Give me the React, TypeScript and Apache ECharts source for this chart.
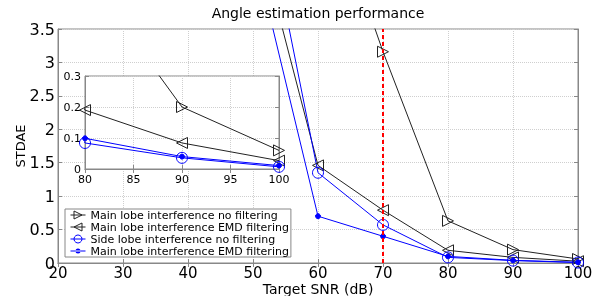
import React, { useEffect, useRef } from "react";
import * as echarts from "echarts";

const snr = [50, 60, 70, 80, 90, 100];
const mainNoFilt = [null, 5.95, 3.16, 0.63, 0.2, 0.06];
const mainEmdBlack = [5.2, 1.46, 0.79, 0.19, 0.084, 0.027];
const sideNoFilt = [6.2, 1.35, 0.57, 0.084, 0.036, 0.007];
const mainEmdBlue = [4.74, 0.7, 0.4, 0.099, 0.04, 0.011];
const markerSnr = 70;
const names = [
  "Main lobe interference no filtering",
  "Main lobe interference EMD filtering",
  "Side lobe interference no filtering",
  "Main lobe interference EMD filtering ",
];
const xTicksMain = { min: 20, max: 100, interval: 10 };
const yTicksMain = { min: 0, max: 3.5, interval: 0.5 };
const xTicksInset = { min: 80, max: 100, interval: 5 };
const yTicksInset = { min: 0, max: 0.3, interval: 0.1 };

const FONT = "DejaVu Sans";
const pairs = (ys: (number | null)[]) => snr.map((x, i) => [x, ys[i] === null ? "-" : ys[i]]);

export default function App() {
  const ref = useRef<HTMLDivElement>(null);
  useEffect(() => {
    if (!ref.current) return;
    const chart = echarts.init(ref.current, undefined, { renderer: "svg" });
    const frame = "#888";
    const grid = { color: "#cfcfcf", type: "dotted" as const };
    const styles = [
      { symbol: "triangle", rot: -90, size: 11, color: "#222", fill: "rgba(0,0,0,0)", data: mainNoFilt },
      { symbol: "triangle", rot: 90, size: 11, color: "#222", fill: "rgba(0,0,0,0)", data: mainEmdBlack },
      { symbol: "circle", rot: 0, size: 11, color: "#0000ff", fill: "rgba(0,0,0,0)", data: sideNoFilt },
      { symbol: "circle", rot: 0, size: 5, color: "#0000ff", fill: "#0000ff", data: mainEmdBlue },
    ];
    const mkSeries = (idx: number, inset: boolean) => {
      const s = styles[idx];
      return {
        type: "line",
        name: inset ? "inset" + idx : names[idx],
        xAxisIndex: inset ? 1 : 0,
        yAxisIndex: inset ? 1 : 0,
        data: pairs(s.data),
        symbol: s.symbol,
        symbolRotate: s.rot,
        symbolSize: s.size,
        showAllSymbol: true,
        clip: true,
        z: inset ? 8 : 2,
        lineStyle: { color: s.color, width: 1 },
        itemStyle: { color: s.fill, borderColor: s.color, borderWidth: 1 },
      };
    };
    const baseAxis = (gi: number, fs: number, margin: number, z: number) => ({
      gridIndex: gi,
      type: "value",
      z,
      axisLine: { show: true, lineStyle: { color: frame } },
      axisTick: { show: true, inside: true, length: 4, lineStyle: { color: frame } },
      axisLabel: { fontSize: fs, color: "#000", margin, fontFamily: FONT },
      splitLine: { show: true, lineStyle: grid },
    });
    const mirror = (gi: number, pos: string, t: any, z: number) => ({
      gridIndex: gi,
      type: "value",
      position: pos,
      ...t,
      z,
      axisLine: { show: true, lineStyle: { color: frame } },
      axisTick: { show: true, inside: true, length: 4, lineStyle: { color: frame } },
      axisLabel: { show: false },
      splitLine: { show: false },
    });
    const dotIcon =
      "path://M0,3 L15,3 L15,4 L0,4 Z M5,3.5 A2.5,2.5 0 1 0 10,3.5 A2.5,2.5 0 1 0 5,3.5 Z";
    const option: any = {
      animation: false,
      textStyle: { fontFamily: FONT },
      title: {
        text: "Angle estimation performance",
        left: 318,
        top: 6,
        textAlign: "center",
        padding: 0,
        textStyle: { fontSize: 14, fontWeight: "normal", color: "#000", fontFamily: FONT },
      },
      legend: {
        data: names.map((n, i) =>
          i === 3
            ? { name: n, icon: dotIcon, itemStyle: { color: "#0000ff", borderWidth: 0 } }
            : {
                name: n,
                itemStyle: { color: styles[i].fill, borderColor: styles[i].color, borderWidth: 1 },
                lineStyle: { color: styles[i].color, width: 1 },
              }
        ),
        orient: "vertical",
        left: 65,
        top: 209,
        padding: [0, 2, 0, 5],
        itemGap: 0,
        itemWidth: 15,
        itemHeight: 10,
        backgroundColor: "#fff",
        borderColor: frame,
        borderWidth: 1,
        z: 6,
        textStyle: { fontSize: 11, color: "#000", lineHeight: 12, fontFamily: FONT },
        formatter: (n: string) => n.trim(),
      },
      grid: [
        { left: 58, top: 29, width: 520, height: 234, show: true, borderColor: frame, borderWidth: 1, backgroundColor: "transparent", outerBoundsMode: "none", containLabel: false },
        { left: 85, top: 76, width: 194, height: 93, show: true, borderColor: frame, borderWidth: 1, backgroundColor: "#fff", z: 5, outerBoundsMode: "none", containLabel: false },
      ],
      xAxis: [
        {
          ...baseAxis(0, 15, 2, 0),
          ...xTicksMain,
          name: "Target SNR (dB)",
          nameLocation: "middle",
          nameGap: 19,
          nameMoveOverlap: false,
          nameTextStyle: { fontSize: 14, color: "#000", fontFamily: FONT },
        },
        { ...baseAxis(1, 11, 5, 6), ...xTicksInset },
        mirror(0, "top", xTicksMain, 0),
        mirror(1, "top", xTicksInset, 6),
      ],
      yAxis: [
        {
          ...baseAxis(0, 16, 3, 0),
          ...yTicksMain,
          name: "STDAE",
          nameLocation: "middle",
          nameGap: 31,
          nameMoveOverlap: false,
          nameTextStyle: { fontSize: 13, color: "#000", fontFamily: FONT },
        },
        { ...baseAxis(1, 11, 4, 6), ...yTicksInset },
        mirror(0, "right", yTicksMain, 0),
        mirror(1, "right", yTicksInset, 6),
      ],
      series: [
        mkSeries(0, false),
        mkSeries(1, false),
        mkSeries(2, false),
        mkSeries(3, false),
        {
          type: "line",
          name: "marker",
          xAxisIndex: 0,
          yAxisIndex: 0,
          data: [[markerSnr, yTicksMain.min], [markerSnr, yTicksMain.max]],
          symbol: "none",
          z: 3,
          lineStyle: { color: "#ff0000", width: 2, type: [4, 3] },
        },
        mkSeries(0, true),
        mkSeries(1, true),
        mkSeries(2, true),
        mkSeries(3, true),
      ],
    };
    chart.setOption(option);
    return () => chart.dispose();
  }, []);
  return <div ref={ref} style={{ position: "fixed", left: 0, top: 0, width: 607, height: 296 }} />;
}
